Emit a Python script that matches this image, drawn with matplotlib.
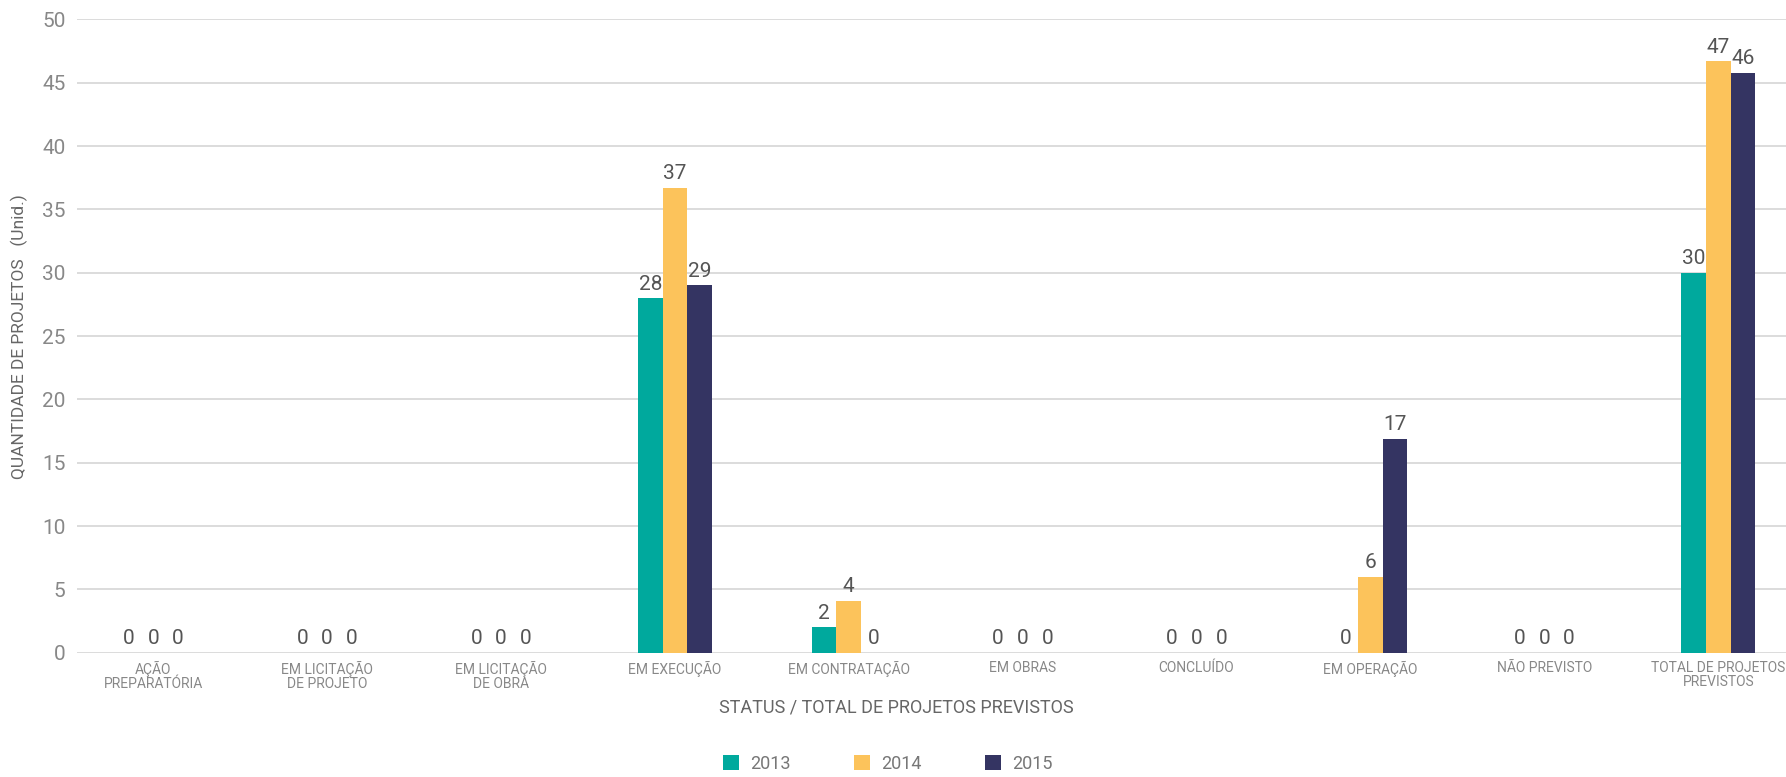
import matplotlib
matplotlib.use('Agg')
import matplotlib.pyplot as plt
import numpy as np

plt.rcParams['font.family'] = ['Roboto', 'DejaVu Sans']

categorias = ['AÇÃO\nPREPARATÓRIA', 'EM LICITAÇÃO\nDE PROJETO', 'EM LICITAÇÃO\nDE OBRA',
              'EM EXECUÇÃO', 'EM CONTRATAÇÃO', 'EM OBRAS', 'CONCLUÍDO',
              'EM OPERAÇÃO', 'NÃO PREVISTO', 'TOTAL DE PROJETOS\nPREVISTOS']
anos = ['2013', '2014', '2015']
v2013 = [0, 0, 0, 28, 2, 0, 0, 0, 0, 30]
v2014 = [0, 0, 0, 36.7, 4.1, 0, 0, 6, 0, 46.7]
v2015 = [0, 0, 0, 29, 0, 0, 0, 16.9, 0, 45.8]
cores = ['#00a99d', '#fcc35b', '#343462']

fig = plt.figure(figsize=(17.86, 7.77), dpi=100)
ax = fig.add_axes([0.043, 0.160, 0.957, 0.815])

x = np.arange(len(categorias))
w = 0.142
for i, (vals, cor, ano) in enumerate(zip([v2013, v2014, v2015], cores, anos)):
    pos = x + (i - 1) * w
    ax.bar(pos, vals, width=w, color=cor, label=ano, zorder=3)
    for p, v in zip(pos, vals):
        ax.text(p, v + 0.35, '%.0f' % v, ha='center', va='bottom',
                fontsize=15, color='#555555', zorder=4)

ax.set_xlim(-0.44, 9.39)
ax.set_ylim(0, 50)
ax.set_yticks(range(0, 51, 5))
ax.yaxis.grid(True, color='#d9d9d9', linewidth=1.3, zorder=0)
ax.set_axisbelow(True)
for s in ax.spines.values():
    s.set_visible(False)
ax.tick_params(axis='both', length=0)
ax.tick_params(axis='y', labelsize=15, labelcolor='#888888', pad=8)
ax.set_xticks(x)
ax.set_xticklabels(categorias, fontsize=10, color='#888888', linespacing=1.0)
ax.tick_params(axis='x', pad=6)

fig.text(0.011, 0.567, 'QUANTIDADE DE PROJETOS   (Unid.)', rotation=90,
         ha='center', va='center', fontsize=12.5, color='#666666')
fig.text(0.502, 0.089, 'STATUS / TOTAL DE PROJETOS PREVISTOS', ha='center',
         va='center', fontsize=13, color='#666666')

fig.legend(loc='center', bbox_to_anchor=(0.497, 0.017), ncol=3, frameon=False,
           fontsize=13, labelcolor='#777777', handlelength=0.9, handleheight=0.9,
           columnspacing=3.5, handletextpad=0.6)

fig.savefig('out.png', dpi=100)
